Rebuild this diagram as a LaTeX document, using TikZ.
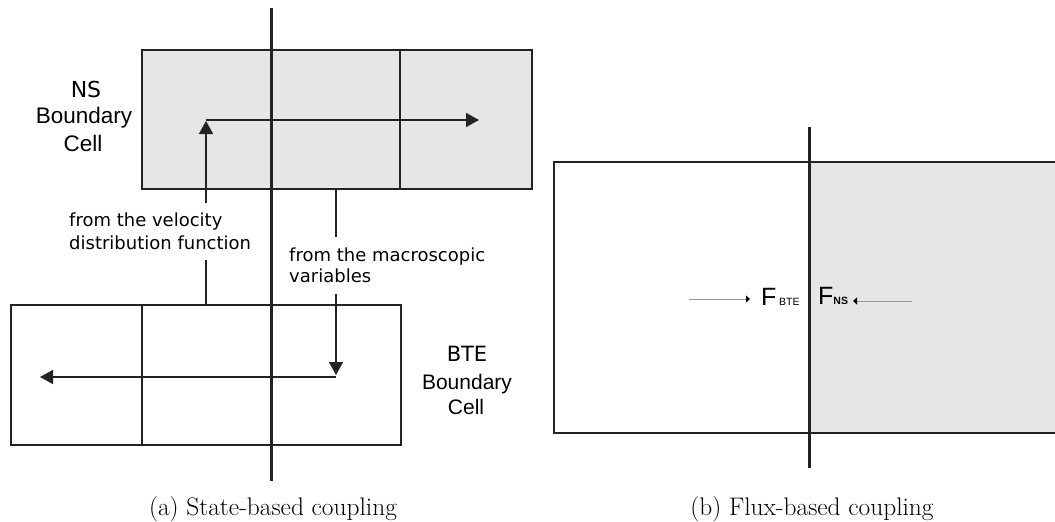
\documentclass[tikz,border=0pt]{standalone}
\usepackage{fontspec}
\newfontfamily\djv{DejaVu Sans}
\newfontfamily\lib{Liberation Sans}
\usetikzlibrary{arrows.meta}
\definecolor{nsgrey}{RGB}{230,230,232}
\definecolor{ink}{RGB}{35,35,35}
\begin{document}
\begin{tikzpicture}[x=1pt,y=-1pt,
  box/.style={draw=ink,line width=2.2pt},
  iface/.style={draw=ink,line width=3pt},
  arr/.style={draw=ink,line width=1.6pt,-{Triangle[length=13pt,width=14pt]}},
  farr/.style={draw=black!40,line width=0.9pt,-{Triangle[length=4pt,width=7pt,color=black]}},
  lbl/.style={anchor=base,inner sep=0pt},
  note/.style={font=\djv\fontsize{18}{23}\selectfont,align=left,fill=white,inner xsep=3pt,anchor=north west},
  captxt/.style={font=\fontsize{25.4}{30}\selectfont,anchor=base,inner sep=0pt}]
\useasboundingbox (0,0) rectangle (1055,522);

% ---------- (a) state-based coupling ----------
% NS boundary cells
\fill[nsgrey] (142,50) rectangle (532,189);
\draw[box] (142,50) rectangle (532,189);
\draw[box] (400,50) -- (400,189);
% BTE boundary cells
\draw[box] (11,305) rectangle (401,445);
\draw[box] (142,305) -- (142,445);
% interface
\draw[iface] (271,8) -- (271,481);

% arrow end points
\coordinate (vb) at (206,305);
\coordinate (vt) at (206,121);
\coordinate (hs) at (206,120);
\coordinate (he) at (479,120);
\coordinate (ms) at (336,189);
\coordinate (me) at (336,375);
\coordinate (bs) at (336,377);
\coordinate (be) at (40,377);

\draw[arr] (vb) -- (vt);
\draw[arr] (hs) -- (he);
\draw[arr] (ms) -- (me);
\draw[arr] (bs) -- (be);

\node[note,inner ysep=10pt] (vel) at (66,203) {from the velocity\\distribution function};
\node[note,inner ysep=11pt,font=\djv\fontsize{18}{21}\selectfont] (mac) at (286,237) {from the macroscopic\\variables};

\node[lbl,font=\djv\fontsize{22}{26}\selectfont] (nsA) at (86,97) {NS};
\node[lbl,font=\lib\fontsize{22.5}{26}\selectfont] (nsB) at (84,123) {Boundary};
\node[lbl,font=\lib\fontsize{22.5}{26}\selectfont] (nsC) at (83,151) {Cell};

\node[lbl,font=\djv\fontsize{21}{26}\selectfont] (bteA) at (467,361) {BTE};
\node[lbl,font=\lib\fontsize{21}{26}\selectfont] (bteB) at (467,389) {Boundary};
\node[lbl,font=\lib\fontsize{21}{26}\selectfont] (bteC) at (466,414) {Cell};

\node[captxt] (capa) at (273,515) {(a) State-based coupling};

% ---------- (b) flux-based coupling ----------
\fill[nsgrey] (809,162) rectangle (1055,433);
\draw[box] (1056,162) -- (554,162) -- (554,433) -- (1056,433);
\draw[iface] (809,127) -- (809,468);

\coordinate (fa1) at (689,299);
\coordinate (fa2) at (750,299);
\coordinate (fb1) at (912,301);
\coordinate (fb2) at (853,301);
\draw[farr] (fa1) -- (fa2);
\draw[farr] (fb1) -- (fb2);

\node[anchor=base west,inner sep=0pt,font=\lib\fontsize{25}{25}\selectfont] (fbte) at (761,305) {F\kern2.7pt{\fontsize{10.5}{10}\selectfont BTE}};
\node[anchor=base west,inner sep=0pt,font=\lib\fontsize{25}{25}\selectfont] (fns) at (818,304) {F{\bfseries\fontsize{10.5}{10}\selectfont NS}};

\node[captxt] (capb) at (812,515) {(b) Flux-based coupling};
\end{tikzpicture}
\end{document}
